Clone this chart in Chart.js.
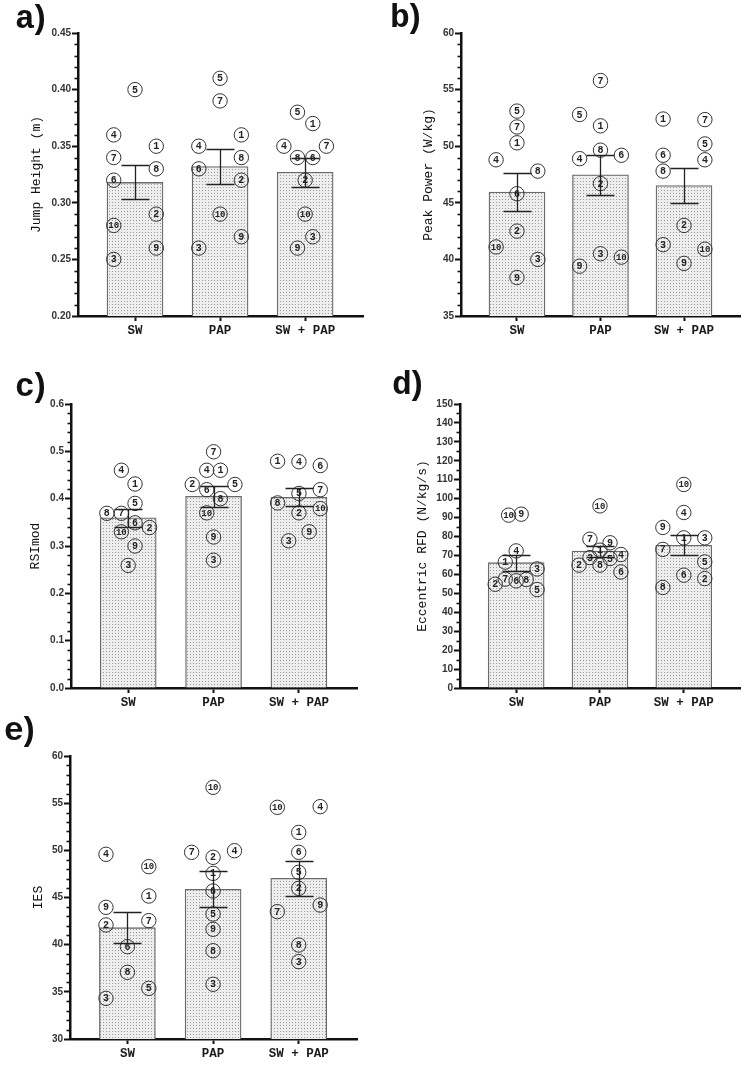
<!DOCTYPE html>
<html><head><meta charset="utf-8">
<script src="https://cdn.jsdelivr.net/npm/chart.js@4/dist/chart.umd.min.js"></script>
<style>
html,body{margin:0;padding:0;background:#fff;}
#wrap{position:relative;width:749px;height:1065px;overflow:hidden;background:#fff;}
canvas{position:absolute;}
.lbl{position:absolute;font-family:"Liberation Mono",monospace;font-weight:bold;font-size:33px;line-height:32px;color:#111;letter-spacing:-5px;}
</style></head><body>
<div id="wrap">
<canvas id="ca" width="375" height="345" style="left:0px;top:0px"></canvas>
<canvas id="cb" width="374" height="345" style="left:375px;top:0px"></canvas>
<canvas id="cc" width="375" height="370" style="left:0px;top:350px"></canvas>
<canvas id="cd" width="374" height="370" style="left:375px;top:350px"></canvas>
<canvas id="ce" width="375" height="365" style="left:0px;top:700px"></canvas>
<div class="lbl" style="left:15px;top:4px">a)</div>
<div class="lbl" style="left:390px;top:3px">b)</div>
<div class="lbl" style="left:15px;top:372px">c)</div>
<div class="lbl" style="left:392px;top:370px">d)</div>
<div class="lbl" style="left:4px;top:716px">e)</div>
</div>
<script>
// ---------- DATA ----------
const categories = ['SW', 'PAP', 'SW + PAP'];
const subjectIds = ['1','2','3','4','5','6','7','8','9','10'];

// a) Jump Height (m)
const jumpMean = [0.318, 0.332, 0.327];
const jumpSem  = [0.015, 0.0155, 0.013];
const jumpSW   = [0.35, 0.29, 0.25, 0.36, 0.40, 0.32, 0.34, 0.33, 0.26, 0.28];
const jumpPAP  = [0.36, 0.32, 0.26, 0.35, 0.41, 0.33, 0.39, 0.34, 0.27, 0.29];
const jumpBoth = [0.37, 0.32, 0.27, 0.35, 0.38, 0.34, 0.35, 0.34, 0.26, 0.29];
const jumpTicks = [0.20, 0.25, 0.30, 0.35, 0.40, 0.45];

// b) Peak Power (W/kg)
const powerMean = [45.95, 47.47, 46.53];
const powerSem  = [1.65, 1.78, 1.55];
const powerSW   = [50.3, 42.5, 40.0, 48.8, 53.1, 45.8, 51.7, 47.8, 38.4, 41.1];
const powerPAP  = [51.8, 46.7, 40.5, 48.9, 52.8, 49.2, 55.8, 49.65, 39.4, 40.2];
const powerBoth = [52.4, 43.0, 41.3, 48.8, 50.2, 49.2, 52.35, 47.8, 39.65, 40.9];
const powerTicks = [35, 40, 45, 50, 55, 60];

// c) RSImod
const rsiMean = [0.3596, 0.405, 0.403];
const rsiSem  = [0.019, 0.022, 0.019];
const rsiSW   = [0.431, 0.339, 0.259, 0.460, 0.390, 0.349, 0.369, 0.369, 0.300, 0.330];
const rsiPAP  = [0.460, 0.430, 0.270, 0.460, 0.430, 0.419, 0.499, 0.400, 0.319, 0.370];
const rsiBoth = [0.479, 0.370, 0.311, 0.478, 0.411, 0.470, 0.419, 0.391, 0.330, 0.379];
const rsiTicks = [0.0, 0.1, 0.2, 0.3, 0.4, 0.5, 0.6];

// d) Eccentric RFD (N/kg/s)
const rfdMean = [66.2, 72.3, 75.4];
const rfdSem  = [4.3, 2.9, 5.2];
const rfdSW   = [66.5, 54.8, 62.9, 72.4, 52.0, 56.6, 57.5, 57.3, 91.8, 91.3];
const rfdPAP  = [72.8, 64.9, 68.9, 70.5, 68.4, 61.3, 78.6, 64.9, 76.7, 96.2];
const rfdBoth = [79.3, 57.8, 79.3, 92.7, 66.6, 59.6, 73.2, 53.1, 84.8, 107.5];
const rfdTicks = [0,10,20,30,40,50,60,70,80,90,100,110,120,130,140,150];

// e) IES
const iesMean = [41.8, 45.87, 47.03];
const iesSem  = [1.65, 1.92, 1.82];
const iesSW   = [45.16, 42.09, 34.31, 49.58, 35.37, 39.79, 42.55, 37.07, 43.96, 48.27];
const iesPAP  = [47.56, 49.26, 35.8, 49.96, 43.25, 45.69, 49.79, 39.36, 41.63, 56.68];
const iesBoth = [51.9, 45.97, 38.2, 54.63, 47.67, 49.79, 43.5, 39.96, 44.2, 54.56];
const iesTicks = [30, 35, 40, 45, 50, 55, 60];

// horizontal scatter of the numbered symbols (category units, per subject)
const jumpJitSW   = [0.25, 0.25, -0.25, -0.25, 0, -0.25, -0.25, 0.25, 0.25, -0.25];
const jumpJitPAP  = [0.25, 0.25, -0.25, -0.25, 0, -0.25, 0, 0.25, 0.25, 0];
const jumpJitBoth = [0.09, 0, 0.09, -0.25, -0.09, 0.09, 0.25, -0.09, -0.09, 0];
const powerJitSW   = [0, 0, 0.25, -0.25, 0, 0, 0, 0.25, 0, -0.25];
const powerJitPAP  = [0, 0, 0, -0.25, -0.25, 0.25, 0, 0, -0.25, 0.25];
const powerJitBoth = [-0.25, 0, -0.25, 0.25, 0.25, -0.25, 0.25, -0.25, 0, 0.25];
const rsiJitSW   = [0.08, 0.25, 0, -0.08, 0.08, 0.08, -0.08, -0.25, 0.08, -0.08];
const rsiJitPAP  = [0.08, -0.25, 0, -0.08, 0.25, -0.08, 0, 0.08, 0, -0.08];
const rsiJitBoth = [-0.25, 0, -0.12, 0, 0, 0.25, 0.25, -0.25, 0.12, 0.25];
const rfdJitSW   = [-0.13, -0.25, 0.25, 0, 0.25, 0, -0.13, 0.12, 0.06, -0.09];
const rfdJitPAP  = [0, -0.25, -0.12, 0.25, 0.12, 0.25, -0.12, 0, 0.12, 0];
const rfdJitBoth = [0, 0.25, 0.25, 0, 0.25, 0, -0.25, -0.25, -0.25, 0];
const iesJitSW   = [0.25, -0.25, -0.25, -0.25, 0.25, 0, 0.25, 0, -0.25, 0.25];
const iesJitPAP  = [0, 0, 0, 0.25, 0, 0, -0.25, 0, 0, 0];
const iesJitBoth = [0, 0, 0, 0.25, 0, 0, -0.25, 0, 0.25, -0.25];

// ---------- RENDERING ----------
const MONO = '"Liberation Mono", "Courier New", monospace';
const SANS = '"Liberation Sans", Arial, sans-serif';

function dotPattern(ctx) {
  const c = document.createElement('canvas');
  c.width = 3; c.height = 3;
  const g = c.getContext('2d');
  g.fillStyle = '#eeeeee'; g.fillRect(0, 0, 3, 3);
  g.fillStyle = '#9a9a9a'; g.fillRect(1, 1, 1, 1);
  return ctx.createPattern(c, 'repeat');
}

const deco = {
  id: 'deco',
  afterDatasetsDraw(chart, args, opts) {
    const ctx = chart.ctx, ys = chart.scales.y;
    ctx.save();
    // error bars (mean ± SEM)
    const meta = chart.getDatasetMeta(0);
    ctx.strokeStyle = '#222'; ctx.lineWidth = 1.3;
    meta.data.forEach((bar, i) => {
      const m = chart.data.datasets[0].data[i].y, s = opts.sem[i];
      const yt = ys.getPixelForValue(m + s), yb = ys.getPixelForValue(m - s);
      const x = Math.round(bar.x) + 0.5;
      ctx.beginPath();
      ctx.moveTo(x, yt); ctx.lineTo(x, yb);
      ctx.moveTo(x - 14, Math.round(yt) + 0.5); ctx.lineTo(x + 14, Math.round(yt) + 0.5);
      ctx.moveTo(x - 14, Math.round(yb) + 0.5); ctx.lineTo(x + 14, Math.round(yb) + 0.5);
      ctx.stroke();
    });
    // subject numbers inside symbols
    ctx.fillStyle = '#222';
    ctx.textAlign = 'center'; ctx.textBaseline = 'middle';
    chart.data.datasets.forEach((ds, di) => {
      if (ds.type !== 'scatter') return;
      const mt = chart.getDatasetMeta(di);
      mt.data.forEach((pt, j) => {
        const t = ds.ids[j];
        ctx.font = (t.length > 1 ? 'bold 9px ' : 'bold 10px ') + MONO;
        ctx.fillText(t, pt.x, pt.y + 0.5);
      });
    });
    ctx.restore();
  },
  afterDraw(chart, args, opts) {
    const ctx = chart.ctx, ys = chart.scales.y, a = chart.chartArea;
    const n = Math.round((ys.max - ys.min) / opts.minor);
    const per = Math.round(opts.major / opts.minor);
    ctx.save();
    ctx.strokeStyle = '#111'; ctx.lineWidth = 1.6;
    for (let i = 0; i <= n; i++) {
      if (i % per === 0) continue;
      const y = Math.round(ys.getPixelForValue(ys.min + i * opts.minor)) + 0.5;
      ctx.beginPath(); ctx.moveTo(a.left - 3.5, y); ctx.lineTo(a.left, y); ctx.stroke();
    }
    ctx.restore();
  }
};

function makePanel(id, cfg) {
  const cv = document.getElementById(id);
  const ctx = cv.getContext('2d');
  const W = cv.width, H = cv.height;
  const groups = [cfg.sw, cfg.pap, cfg.both];
  const jits = [cfg.jsw, cfg.jpap, cfg.jboth];
  const datasets = [{
    type: 'bar',
    data: cfg.mean.map((m, g) => ({ x: g, y: m })),
    backgroundColor: dotPattern(ctx),
    borderColor: '#6a6a6a',
    borderWidth: 1.3,
    borderSkipped: 'start',
    barThickness: 56,
    order: 3
  }];
  groups.forEach((vals, g) => {
    datasets.push({
      type: 'scatter',
      data: vals.map((v, k) => ({ x: g + jits[g][k], y: v })),
      ids: subjectIds,
      pointRadius: 7.2,
      pointHoverRadius: 7.2,
      pointBorderWidth: 1,
      pointBorderColor: '#333',
      pointBackgroundColor: 'rgba(0,0,0,0)',
      order: 1
    });
  });
  new Chart(ctx, {
    type: 'bar',
    data: { datasets },
    plugins: [deco],
    options: {
      responsive: false,
      animation: false,
      events: [],
      layout: { padding: { left: 0, top: cfg.T, right: W - cfg.R, bottom: 0 } },
      plugins: {
        legend: { display: false },
        tooltip: { enabled: false },
        deco: { sem: cfg.sem, minor: cfg.minor, major: cfg.major }
      },
      scales: {
        x: {
          type: 'linear', min: -0.67, max: 2.68, offset: false,
          afterFit: s => { s.height = H - cfg.B; },
          afterBuildTicks: s => { s.ticks = categories.map((c, i) => ({ value: i })); },
          ticks: {
            autoSkip: false, maxRotation: 0, padding: 2,
            color: '#1a1a1a',
            font: { family: MONO, size: 12.5, weight: 'bold' },
            callback: v => categories[v]
          },
          grid: { display: true, drawOnChartArea: false, drawTicks: true, tickLength: 5, tickWidth: 2, tickColor: '#111', offset: false },
          border: { display: true, color: '#111', width: 2.5 }
        },
        y: {
          type: 'linear', min: cfg.ticks[0], max: cfg.ticks[cfg.ticks.length - 1],
          afterFit: s => { s.width = cfg.L; },
          afterBuildTicks: s => { s.ticks = cfg.ticks.map(v => ({ value: v })); },
          ticks: {
            padding: 1, color: '#333',
            font: { family: SANS, size: 10, weight: 'bold' },
            callback: v => Number(v).toFixed(cfg.dec)
          },
          grid: { display: true, drawOnChartArea: false, drawTicks: true, tickLength: 6, tickWidth: 2, tickColor: '#111' },
          border: { display: true, color: '#111', width: 2.5 },
          title: {
            display: true, text: cfg.title, color: '#111',
            font: { family: MONO, size: 13 },
            padding: { top: cfg.titleX - 7.8, bottom: 0 }
          }
        }
      }
    }
  });
}

makePanel('ca', { L: 78, R: 363, T: 33, B: 316, ticks: jumpTicks, major: 0.05, minor: 0.01, dec: 2,
  title: 'Jump Height (m)', titleX: 37, mean: jumpMean, sem: jumpSem,
  sw: jumpSW, pap: jumpPAP, both: jumpBoth, jsw: jumpJitSW, jpap: jumpJitPAP, jboth: jumpJitBoth });
makePanel('cb', { L: 86, R: 368, T: 33, B: 316, ticks: powerTicks, major: 5, minor: 1, dec: 0,
  title: 'Peak Power (W/kg)', titleX: 54, mean: powerMean, sem: powerSem,
  sw: powerSW, pap: powerPAP, both: powerBoth, jsw: powerJitSW, jpap: powerJitPAP, jboth: powerJitBoth });
makePanel('cc', { L: 71, R: 357, T: 54, B: 338, ticks: rsiTicks, major: 0.1, minor: 0.02, dec: 1,
  title: 'RSImod', titleX: 36, mean: rsiMean, sem: rsiSem,
  sw: rsiSW, pap: rsiPAP, both: rsiBoth, jsw: rsiJitSW, jpap: rsiJitPAP, jboth: rsiJitBoth });
makePanel('cd', { L: 85, R: 370, T: 54, B: 338, ticks: rfdTicks, major: 10, minor: 5, dec: 0,
  title: 'Eccentric RFD (N/kg/s)', titleX: 48, mean: rfdMean, sem: rfdSem,
  sw: rfdSW, pap: rfdPAP, both: rfdBoth, jsw: rfdJitSW, jpap: rfdJitPAP, jboth: rfdJitBoth });
makePanel('ce', { L: 70, R: 357, T: 56, B: 339, ticks: iesTicks, major: 5, minor: 1, dec: 0,
  title: 'IES', titleX: 39, mean: iesMean, sem: iesSem,
  sw: iesSW, pap: iesPAP, both: iesBoth, jsw: iesJitSW, jpap: iesJitPAP, jboth: iesJitBoth });
</script>
</body></html>
